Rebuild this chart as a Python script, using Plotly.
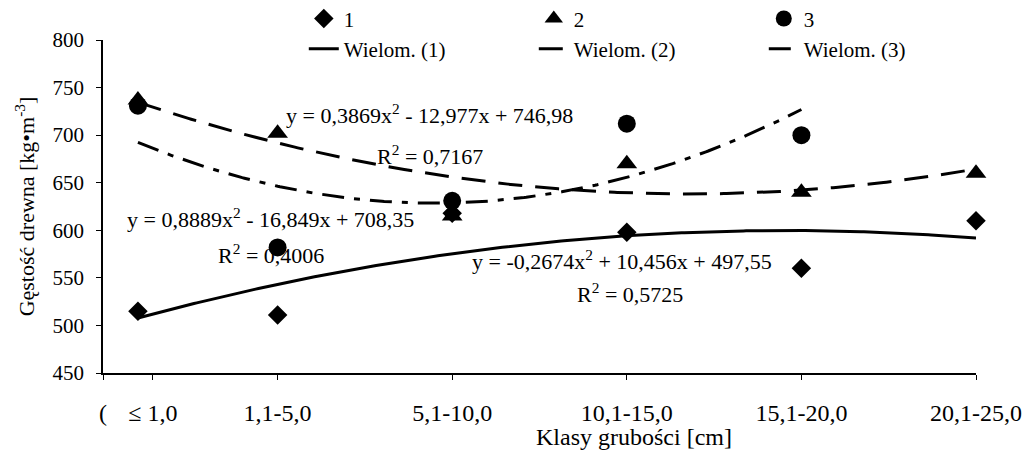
import numpy as np
import plotly.graph_objects as go

# ---- data ----
x_pos = [1, 5, 10, 15, 20, 25]
tick_vals = [0, 1.43, 5, 10, 15, 20, 25]
tick_text = ["(", "≤ 1,0", "1,1-5,0", "5,1-10,0", "10,1-15,0", "15,1-20,0", "20,1-25,0"]

s1 = [515, 511, 618, 598, 560, 610]
s2 = [737, 702, 615, 670, 640, 660]
s3 = [731, 582, 631, 712, 700]

# polynomial trendline coefficients (a, b, c) and R² as printed on chart
c1 = [-0.2674, 10.456, 497.55]
c2 = [0.3869, -12.977, 746.98]
c3 = [0.8889, -16.849, 708.35]
r2 = ["0,5725", "0,7167", "0,4006"]
eq_text = [
    "y = -0,2674x<sup>2</sup> + 10,456x + 497,55",
    "y = 0,3869x<sup>2</sup> - 12,977x + 746,98",
    "y = 0,8889x<sup>2</sup> - 16,849x + 708,35",
]
x_title = "Klasy grubości [cm]"
y_title = "Gęstość drewna [kg•m<sup>-3</sup>]"

FONT = "'Times New Roman', 'Liberation Serif', Times, serif"

def trend(c, x0, x1):
    xs = np.linspace(x0, x1, 300)
    return xs, np.polyval(c, xs)

fig = go.Figure()

fig.add_trace(go.Scatter(x=x_pos, y=s1, mode="markers", name="1", cliponaxis=False,
                         marker=dict(symbol="diamond", size=15, color="black")))
fig.add_trace(go.Scatter(x=x_pos, y=s2, mode="markers", name="2", cliponaxis=False,
                         marker=dict(symbol="triangle-up", size=18, color="black")))
fig.add_trace(go.Scatter(x=x_pos[:5], y=s3, mode="markers", name="3", cliponaxis=False,
                         marker=dict(symbol="circle", size=18, color="black")))

tx, ty = trend(c1, x_pos[0], x_pos[-1])
fig.add_trace(go.Scatter(x=tx, y=ty, mode="lines", name="Wielom. (1)",
                         line=dict(color="black", width=3)))
tx, ty = trend(c2, x_pos[0], x_pos[-1])
fig.add_trace(go.Scatter(x=tx, y=ty, mode="lines", name="Wielom. (2)",
                         line=dict(color="black", width=3, dash="24px,13px")))
tx, ty = trend(c3, x_pos[0], x_pos[4])
fig.add_trace(go.Scatter(x=tx, y=ty, mode="lines", name="Wielom. (3)",
                         line=dict(color="black", width=3, dash="22px,10px,6px,10px")))

# equation annotations (positions in data coords)
ann = [
    dict(x=14.86, y=569, text=eq_text[0]),
    dict(x=15.09, y=534, text="R<sup>2</sup> = " + r2[0]),
    dict(x=9.36, y=722, text=eq_text[1]),
    dict(x=9.36, y=679, text="R<sup>2</sup> = " + r2[1]),
    dict(x=4.81, y=613, text=eq_text[2]),
    dict(x=4.81, y=575, text="R<sup>2</sup> = " + r2[2]),
]
for a in ann:
    fig.add_annotation(x=a["x"], y=a["y"], text=a["text"], showarrow=False,
                       xref="x", yref="y", font=dict(family=FONT, size=22, color="black"))

# x-axis title (placed off-centre as in the original)
fig.add_annotation(x=0.608, y=0, xref="paper", yref="paper", yanchor="middle",
                   yshift=-64, text=x_title, showarrow=False,
                   font=dict(family=FONT, size=24, color="black"))

fig.update_layout(
    width=1026, height=451,
    margin=dict(l=103, r=50, t=40, b=78, autoexpand=False),
    paper_bgcolor="white", plot_bgcolor="white",
    font=dict(family=FONT, color="black"),
    showlegend=True,
    legend=dict(orientation="h", x=0.23, xanchor="left", y=1.125, yanchor="top",
                font=dict(family=FONT, size=21), entrywidth=185,
                bgcolor="rgba(0,0,0,0)", tracegroupgap=0),
    xaxis=dict(range=[0, 25], tickmode="array", tickvals=tick_vals, ticktext=tick_text,
               showline=True, linecolor="black", linewidth=1.5, showgrid=False, zeroline=False,
               ticks="outside", ticklen=5, tickcolor="black", ticklabelstandoff=12,
               tickfont=dict(family=FONT, size=24)),
    yaxis=dict(range=[450, 800], dtick=50, showline=True, linecolor="black", linewidth=1.5,
               showgrid=False, zeroline=False, ticks="outside", ticklen=5, tickcolor="black",
               ticklabelstandoff=8, tickfont=dict(family=FONT, size=21),
               title=dict(text=y_title, font=dict(family=FONT, size=22), standoff=12)),
)

fig.write_html("out.html")
